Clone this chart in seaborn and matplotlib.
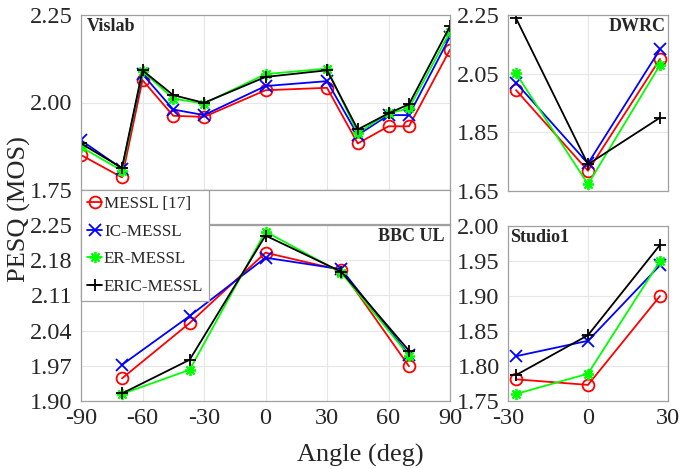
import numpy as np
import matplotlib.pyplot as plt
import seaborn as sns

# methods and their styles
methods = ['MESSL [17]', 'IC-MESSL', 'ER-MESSL', 'ERIC-MESSL']
colors = ['#ff0000', '#0000ff', '#00ff00', '#000000']
markers = ['o', 'x', (8, 2, 0), '+']

# Vislab
vis_angle = [-90, -70, -60, -45, -30, 0, 30, 45, 60, 70, 90]
vis_messl = [1.850, 1.786, 2.064, 1.962, 1.959, 2.035, 2.042, 1.883, 1.932, 1.932, 2.151]
vis_ic = [1.892, 1.811, 2.081, 1.980, 1.964, 2.047, 2.061, 1.907, 1.964, 1.964, 2.188]
vis_er = [1.873, 1.805, 2.090, 2.011, 1.997, 2.081, 2.097, 1.913, 1.969, 1.983, 2.202]
vis_eric = [1.883, 1.813, 2.092, 2.021, 1.999, 2.073, 2.092, 1.923, 1.969, 1.995, 2.218]

# DWRC
dw_angle = [-27, 0, 27]
dw_messl = [1.994, 1.719, 2.100]
dw_ic = [2.019, 1.744, 2.133]
dw_er = [2.051, 1.673, 2.080]
dw_eric = [2.239, 1.741, 1.900]

# BBC UL
bbc_angle = [-70, -37, 0, 37, 70]
bbc_messl = [1.945, 2.055, 2.195, 2.160, 1.969]
bbc_ic = [1.972, 2.069, 2.185, 2.162, 1.992]
bbc_er = [1.914, 1.962, 2.237, 2.155, 1.990]
bbc_eric = [1.915, 1.982, 2.229, 2.157, 2.000]

# Studio1
st_angle = [-27, 0, 27]
st_messl = [1.781, 1.773, 1.900]
st_ic = [1.814, 1.836, 1.944]
st_er = [1.760, 1.789, 1.950]
st_eric = [1.787, 1.844, 1.973]

sns.set_style('whitegrid')
plt.rcParams['font.family'] = ['Liberation Serif', 'DejaVu Serif']
plt.rcParams['axes.unicode_minus'] = False

W, H = 680, 469
fig = plt.figure(figsize=(W / 100, H / 100), dpi=100)


def box(l, t, r, b):
    return [l / W, 1 - b / H, (r - l) / W, (b - t) / H]


ax_vis = fig.add_axes(box(81, 15, 450, 190))
ax_dw = fig.add_axes(box(508, 15, 668, 191))
ax_bbc = fig.add_axes(box(81, 225, 450, 401))
ax_st = fig.add_axes(box(508, 226, 668, 401))

panels = [
    (ax_vis, vis_angle, [vis_messl, vis_ic, vis_er, vis_eric]),
    (ax_dw, dw_angle, [dw_messl, dw_ic, dw_er, dw_eric]),
    (ax_bbc, bbc_angle, [bbc_messl, bbc_ic, bbc_er, bbc_eric]),
    (ax_st, st_angle, [st_messl, st_ic, st_er, st_eric]),
]

for ax, x, series in panels:
    for name, y, c, m in zip(methods, series, colors, markers):
        sns.lineplot(x=x, y=y, ax=ax, color=c, marker=m, label=name,
                     legend=False, sort=False, linewidth=1.3,
                     markersize=8 if m != 'o' else 8.5,
                     markeredgecolor=c, markeredgewidth=1.3,
                     markerfacecolor='none' if m == 'o' else c)

# axis limits and ticks
ax_vis.set_xlim(-90, 90)
ax_vis.set_ylim(1.75, 2.25)
ax_vis.set_yticks([1.75, 2.00, 2.25])
ax_vis.set_yticklabels(['1.75', '2.00', '2.25'])
ax_vis.set_xticks(np.arange(-90, 91, 30))
ax_vis.set_xticklabels([])

ax_dw.set_xlim(-30, 30)
ax_dw.set_ylim(1.65, 2.25)
ax_dw.set_yticks([1.65, 1.85, 2.05, 2.25])
ax_dw.set_yticklabels(['1.65', '1.85', '2.05', '2.25'])
ax_dw.set_xticks([-30, 0, 30])
ax_dw.set_xticklabels([])

ax_bbc.set_xlim(-90, 90)
ax_bbc.set_ylim(1.90, 2.25)
ax_bbc.set_yticks([1.90, 1.97, 2.04, 2.11, 2.18, 2.25])
ax_bbc.set_yticklabels(['1.90', '1.97', '2.04', '2.11', '2.18', '2.25'])
ax_bbc.set_xticks(np.arange(-90, 91, 30))

ax_st.set_xlim(-30, 30)
ax_st.set_ylim(1.75, 2.00)
ax_st.set_yticks([1.75, 1.80, 1.85, 1.90, 1.95, 2.00])
ax_st.set_yticklabels(['1.75', '1.80', '1.85', '1.90', '1.95', '2.00'])
ax_st.set_xticks([-30, 0, 30])

for ax in [ax_vis, ax_dw, ax_bbc, ax_st]:
    ax.set_xlabel('')
    ax.set_ylabel('')
    ax.grid(True, color='#e6e6e6', linewidth=0.8)
    ax.tick_params(labelsize=17.5, colors='#a0a0a0', labelcolor='#262626',
                   direction='in', length=3)
    ax.tick_params(axis='x', pad=5)
    ax.tick_params(axis='y', pad=6)
    for s in ax.spines.values():
        s.set_color('#a0a0a0')
        s.set_linewidth(0.9)

# panel names
ax_vis.text(0.015, 0.985, 'Vislab', transform=ax_vis.transAxes, ha='left', va='top',
            fontsize=13, fontweight='bold')
ax_dw.text(0.985, 0.985, 'DWRC', transform=ax_dw.transAxes, ha='right', va='top',
           fontsize=13, fontweight='bold')
ax_bbc.text(0.985, 0.985, 'BBC UL', transform=ax_bbc.transAxes, ha='right', va='top',
            fontsize=13, fontweight='bold')
ax_st.text(0.015, 0.985, 'Studio1', transform=ax_st.transAxes, ha='left', va='top',
           fontsize=13, fontweight='bold')

# empty box between top and bottom panels
ax_gap = fig.add_axes(box(205, 190, 450, 224))
ax_gap.set_xticks([])
ax_gap.set_yticks([])
ax_gap.grid(False)
for s in ax_gap.spines.values():
    s.set_color('#a0a0a0')
    s.set_linewidth(0.9)

# legend
handles, labels = ax_vis.get_legend_handles_labels()
leg = fig.legend(handles, labels, loc='upper left', bbox_to_anchor=(81 / W, 1 - 190 / H),
                 fontsize=12.3, frameon=True, fancybox=False, framealpha=1,
                 edgecolor='#a0a0a0', handlelength=0.9, handletextpad=0.1,
                 labelspacing=0.68, borderpad=0.35, borderaxespad=0)
leg.get_frame().set_linewidth(0.9)

fig.text(0.029, 0.554, 'PESQ (MOS)', rotation=90, ha='center', va='center', fontsize=19)
fig.text(0.530, 0.028, 'Angle (deg)', ha='center', va='center', fontsize=19)

fig.savefig('out.png', dpi=100)
